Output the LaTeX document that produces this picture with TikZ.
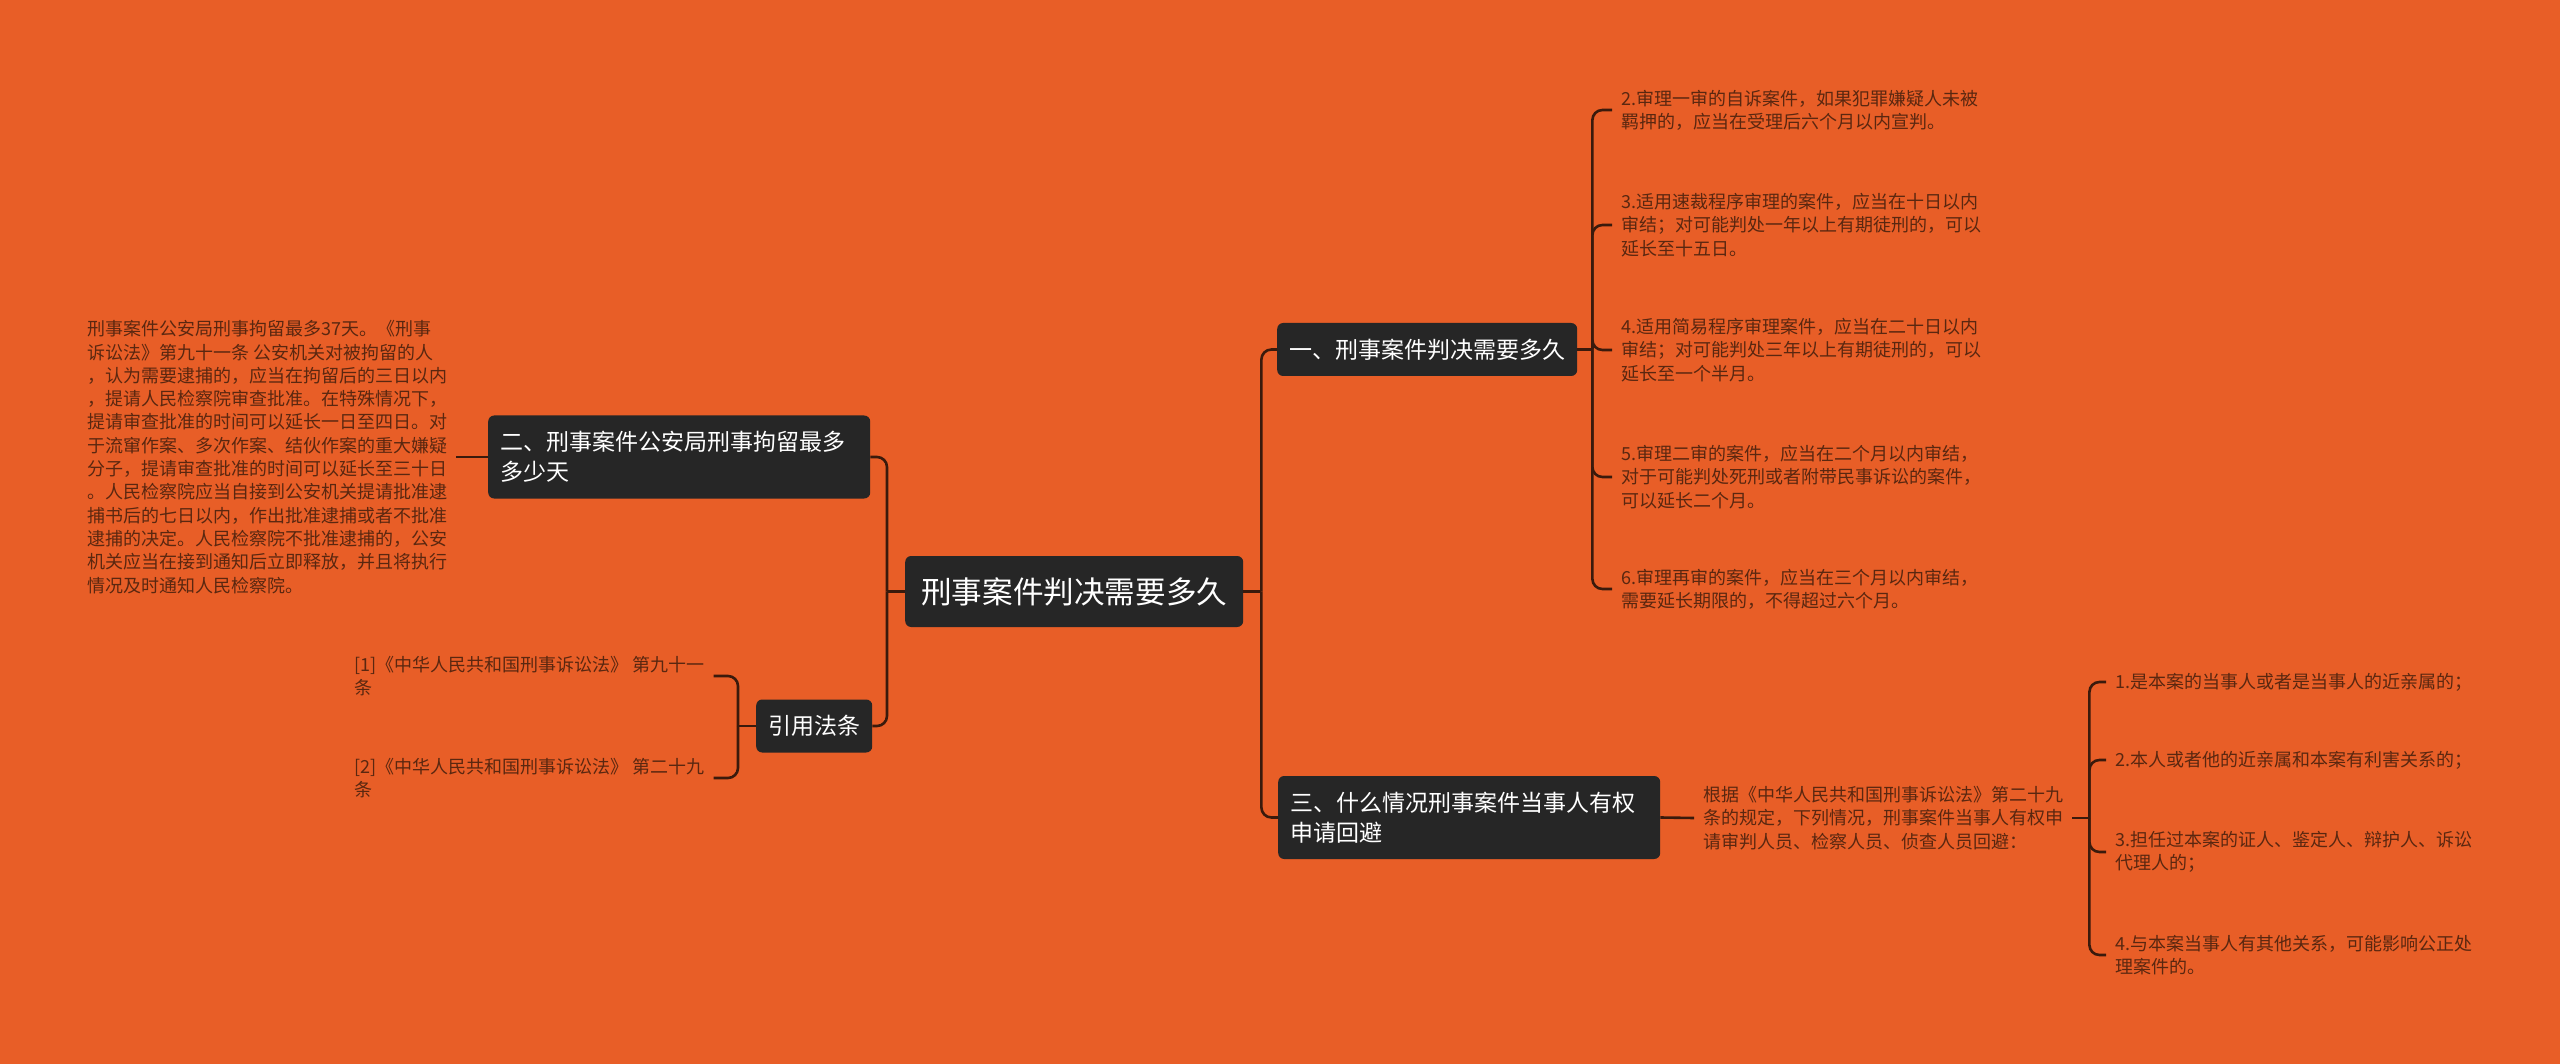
\documentclass[tikz,border=0pt]{standalone}
\usepackage{fontspec}
\setmainfont{Noto Sans CJK SC}
\definecolor{bgorange}{HTML}{E85E27}
\definecolor{boxgray}{HTML}{262626}
\definecolor{linebrown}{HTML}{3A1A0C}
\definecolor{leafbrown}{HTML}{5A2710}
\begin{document}
\begin{tikzpicture}[x=1pt,y=-1pt]
\tikzset{topic/.style={fill=boxgray, text=white, rounded corners=6pt, inner xsep=12pt, inner ysep=0pt, anchor=west, align=left, font=\fontsize{23pt}{30pt}\selectfont},
  leaf/.style={text=leafbrown, inner xsep=9pt, inner ysep=2pt, anchor=west, align=left, font=\fontsize{18pt}{23.3pt}\selectfont},
  link/.style={draw=linebrown, line width=2.6pt, rounded corners=10pt}}
\fill[bgorange] (0,0) rectangle (2560,1064);
\useasboundingbox (0,0) rectangle (2560,1064);
\node[topic, inner xsep=16pt, minimum height=71pt, font=\fontsize{30.6pt}{36pt}\selectfont] (R) at (905,591.5) {刑事案件判决需要多久};
\node[topic, minimum height=53pt] (B1) at (1277,349.5) {一、刑事案件判决需要多久};
\node[topic, minimum height=83pt, text width=358pt] (B3) at (1278,817.5) {三、什么情况刑事案件当事人有权\\申请回避};
\node[topic, minimum height=83pt, text width=358pt] (B2) at (488,457) {二、刑事案件公安局刑事拘留最多\\多少天};
\node[topic, minimum height=53pt] (B4) at (756,726) {引用法条};
\node[leaf] (P2) at (1612,110) {2.审理一审的自诉案件，如果犯罪嫌疑人未被\\羁押的，应当在受理后六个月以内宣判。};
\node[leaf] (P3) at (1612,225) {3.适用速裁程序审理的案件，应当在十日以内\\审结；对可能判处一年以上有期徒刑的，可以\\延长至十五日。};
\node[leaf] (P4) at (1612,350) {4.适用简易程序审理案件，应当在二十日以内\\审结；对可能判处三年以上有期徒刑的，可以\\延长至一个半月。};
\node[leaf] (P5) at (1612,477) {5.审理二审的案件，应当在二个月以内审结，\\对于可能判处死刑或者附带民事诉讼的案件，\\可以延长二个月。};
\node[leaf] (P6) at (1612,589) {6.审理再审的案件，应当在三个月以内审结，\\需要延长期限的，不得超过六个月。};
\node[leaf] (E) at (1694,818) {根据《中华人民共和国刑事诉讼法》第二十九\\条的规定，下列情况，刑事案件当事人有权申\\请审判人员、检察人员、侦查人员回避：};
\node[leaf] (Q1) at (2106,682) {1.是本案的当事人或者是当事人的近亲属的；};
\node[leaf] (Q2) at (2106,760) {2.本人或者他的近亲属和本案有利害关系的；};
\node[leaf] (Q3) at (2106,852) {3.担任过本案的证人、鉴定人、辩护人、诉讼\\代理人的；};
\node[leaf] (Q4) at (2106,955) {4.与本案当事人有其他关系，可能影响公正处\\理案件的。};
\node[leaf] (D) at (78,457) {刑事案件公安局刑事拘留最多37天。《刑事\\诉讼法》第九十一条 公安机关对被拘留的人\\，认为需要逮捕的，应当在拘留后的三日以内\\，提请人民检察院审查批准。在特殊情况下，\\提请审查批准的时间可以延长一日至四日。对\\于流窜作案、多次作案、结伙作案的重大嫌疑\\分子，提请审查批准的时间可以延长至三十日\\。人民检察院应当自接到公安机关提请批准逮\\捕书后的七日以内，作出批准逮捕或者不批准\\逮捕的决定。人民检察院不批准逮捕的，公安\\机关应当在接到通知后立即释放，并且将执行\\情况及时通知人民检察院。};
\node[leaf] (C1) at (345,676) {[1]《中华人民共和国刑事诉讼法》 第九十一\\条};
\node[leaf] (C2) at (345,778) {[2]《中华人民共和国刑事诉讼法》 第二十九\\条};
\coordinate (R1) at ([xshift=18pt]R.east);
\coordinate (L1) at ([xshift=-18pt]R.west);
\coordinate (K1) at ([xshift=15pt]B1.east);
\coordinate (K2) at ([xshift=-18pt]B4.west);
\coordinate (K3) at ([xshift=17pt]E.east);
\draw[link] (R.east) -- (R1);
\draw[link] (R1) |- (B1.west);
\draw[link] (R1) |- (B3.west);
\draw[link] (R.west) -- (L1);
\draw[link] (L1) |- (B2.east);
\draw[link] (L1) |- (B4.east);
\draw[link] (B1.east) -- (K1);
\draw[link] (K1) |- (P2.west);
\draw[link] (K1) |- (P3.west);
\draw[link] (K1) |- (P4.west);
\draw[link] (K1) |- (P5.west);
\draw[link] (K1) |- (P6.west);
\draw[link] (B2.west) -- (D.east |- B2.west);
\draw[link] (B4.west) -- (K2);
\draw[link] (K2) |- (C1.east);
\draw[link] (K2) |- (C2.east);
\draw[link] (B3.east) -- (E.west);
\draw[link] (E.east) -- (K3);
\draw[link] (K3) |- (Q1.west);
\draw[link] (K3) |- (Q2.west);
\draw[link] (K3) |- (Q3.west);
\draw[link] (K3) |- (Q4.west);
\end{tikzpicture}
\end{document}
